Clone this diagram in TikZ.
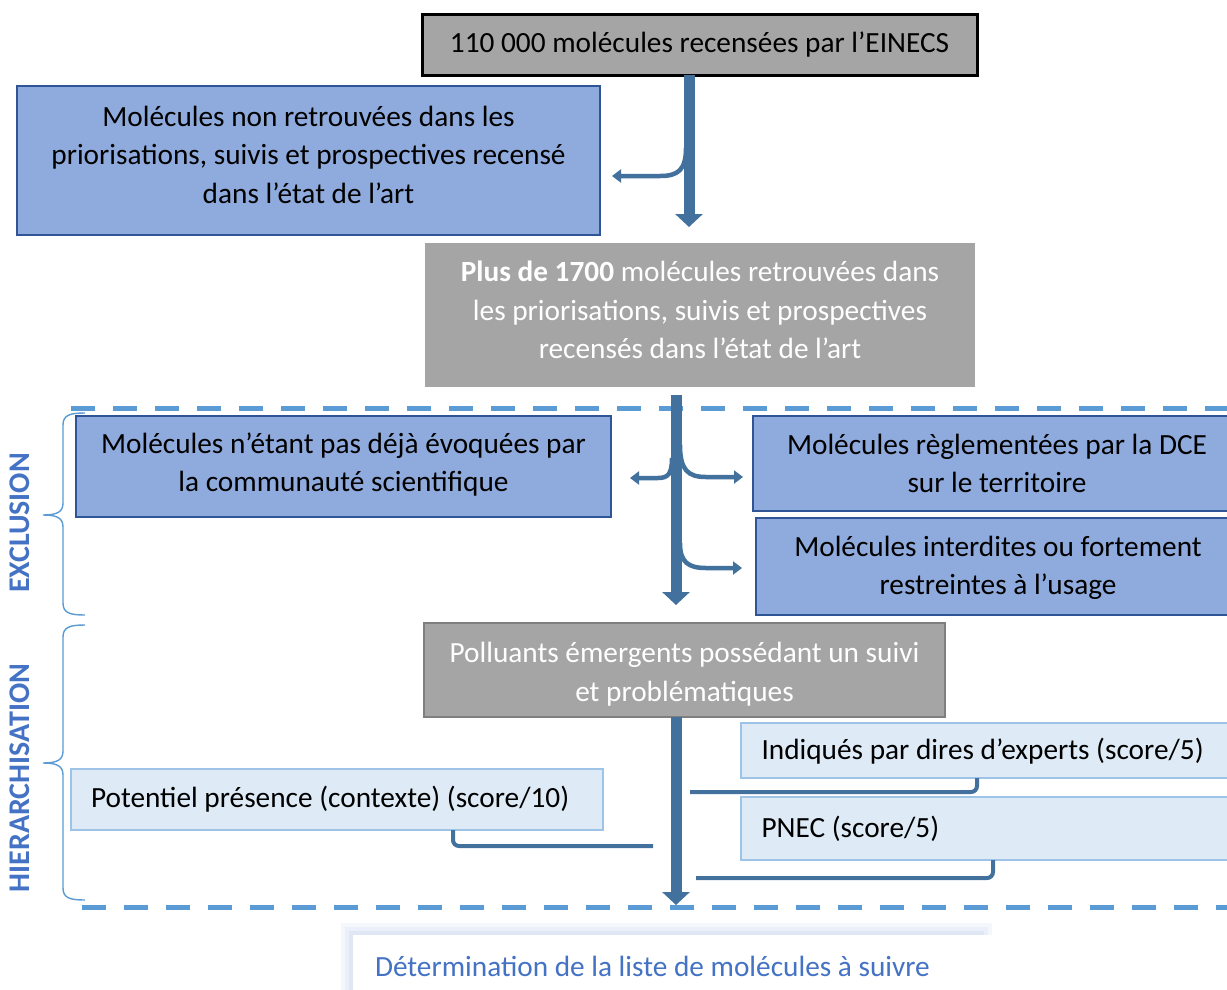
\documentclass[tikz,border=0pt]{standalone}
\usepackage{fontspec}
\setmainfont{Carlito}
\usetikzlibrary{arrows.meta,calc}
\definecolor{arrowblue}{HTML}{41719C}
\definecolor{midfill}{HTML}{8FAADC}
\definecolor{midline}{HTML}{2F5597}
\definecolor{lightfill}{HTML}{DEEBF7}
\definecolor{lightline}{HTML}{9DC3E6}
\definecolor{grayfill}{HTML}{A5A5A5}
\definecolor{grayline}{HTML}{7F7F7F}
\definecolor{dashblue}{HTML}{5B9BD5}
\definecolor{labelblue}{HTML}{4472C4}
\tikzset{
  txt/.style={font=\fontsize{29.3}{38.5}\selectfont, align=center, inner sep=0pt, outer sep=0pt},
  boxbase/.style={inner sep=0pt, outer sep=0pt},
  midbox/.style={boxbase, fill=midfill, draw=midline, line width=1.3pt},
  graybox/.style={boxbase, fill=grayfill},
  lightbox/.style={txt, fill=lightfill, draw=lightline, line width=1.3pt, align=flush left, inner xsep=20pt},
  mainarrow/.style={draw=arrowblue, line width=11pt, -{Triangle[width=27pt,length=13pt]}},
  branch/.style={draw=arrowblue, line width=4.5pt, -{Triangle[width=13pt,length=9pt]}},
  elbow/.style={draw=arrowblue, line width=4pt, rounded corners=6pt},
  sepline/.style={draw=dashblue, line width=5pt, dash pattern=on 24pt off 18pt},
  bracec/.style={draw=dashblue, line width=1.4pt},
  sidelabel/.style={font=\fontsize{30}{34}\selectfont\bfseries, text=labelblue, rotate=90, inner sep=0pt}
}
\begin{document}
\begin{tikzpicture}[x=1pt,y=-1pt]
\useasboundingbox (0,0) rectangle (1227,989);
\fill[white] (0,0) rectangle (1227,989);

% boxes
\node[txt, fill=grayfill, draw=black, line width=3pt, minimum width=555pt, minimum height=61pt] (einecs) at (699.5,44.5) {110 000 molécules recensées par l’EINECS};

\node[midbox, minimum width=583pt, minimum height=149pt] (nonret) at (308.5,160.5) {};
\node[txt] (nonret-t) at ($(nonret.center)+(0,-6)$) {Molécules non retrouvées dans les\\priorisations, suivis et prospectives recensé\\dans l’état de l’art};

\node[graybox, minimum width=550pt, minimum height=144pt] (plus) at (700,315) {};
\node[txt, text=white] (plus-t) at ($(plus.center)+(0,-5)$) {\textbf{Plus de 1700} molécules retrouvées dans\\les priorisations, suivis et prospectives\\recensés dans l’état de l’art};

\node[midbox, minimum width=535pt, minimum height=101pt] (evoq) at (343.5,466.5) {};
\node[txt] (evoq-t) at ($(evoq.center)+(0,-2)$) {Molécules n’étant pas déjà évoquées par\\la communauté scientifique};

\node[midbox, minimum width=488pt, minimum height=95pt] (dce) at (997,463.5) {};
\node[txt] (dce-t) at (dce.center) {Molécules règlementées par la DCE\\sur le territoire};

\node[midbox, minimum width=484pt, minimum height=97pt] (interd) at (998,566.5) {};
\node[txt] (interd-t) at ($(interd.center)+(0,1.5)$) {Molécules interdites ou fortement\\restreintes à l’usage};

\node[graybox, draw=grayline, line width=2pt, minimum width=521pt, minimum height=94pt] (poll) at (684.5,670) {};
\node[txt, text=white] (poll-t) at ($(poll.center)+(0,4)$) {Polluants émergents possédant un suivi\\et problématiques};

\node[lightbox, text width=458pt, minimum width=499pt, minimum height=55pt, text depth=4pt] (experts) at (990.5,750.5) {Indiqués par dires d’experts (score/5)};
\node[lightbox, text width=458pt, minimum width=499pt, minimum height=63pt] (pnec) at (990.5,828.5) {PNEC (score/5)};
\node[lightbox, text width=492pt, minimum width=532pt, minimum height=61pt] (pot) at (337,799.5) {Potentiel présence (contexte) (score/10)};

% final box with glow
\fill[color=labelblue!6] (341,923) rectangle (992,1000);
\fill[color=labelblue!11] (345,927) rectangle (988,1000);
\fill[color=labelblue!17] (349,931) rectangle (984,1000);
\node[txt, fill=white, text=labelblue, align=flush left, anchor=north west, minimum width=627pt, minimum height=62pt, text width=605pt, inner xsep=22pt] (fin) at (353,935) {Détermination de la liste de molécules à suivre};

% separators
\draw[sepline] (71,408) -- (1240,408);
\draw[sepline] (82,907) -- (1240,907);

% braces
\draw[bracec] (85,413) .. controls (70,413) and (63,415) .. (63,425) -- (63,503) .. controls (63,512) and (57,515) .. (43,515) .. controls (57,515) and (63,518) .. (63,527) -- (63,603) .. controls (63,613) and (70,615) .. (85,615);
\draw[bracec] (85,625) .. controls (70,625) and (63,627) .. (63,637) -- (63,751) .. controls (63,760) and (57,763) .. (43,763) .. controls (57,763) and (63,766) .. (63,775) -- (63,888) .. controls (63,898) and (70,900) .. (85,900);
\node[sidelabel] (lexcl) at (20,523) {EXCLUSION};
\node[sidelabel] (lhier) at (20,778) {HIERARCHISATION};

% main arrows
\coordinate (a1e) at (689,227);
\draw[mainarrow] (einecs.south -| a1e) -- (a1e);
\coordinate (a2s) at (676,395);
\coordinate (a2e) at (676,605);
\draw[mainarrow] (a2s) -- (a2e);
\coordinate (a3e) at (676,905);
\draw[mainarrow] (poll.south -| a3e) -- (a3e);

% branch arrows
\coordinate (b1) at (612,176);
\draw[branch] (686,148) .. controls (686,170) and (678,176) .. (660,176) -- (b1);
\coordinate (b2) at (630,478);
\draw[branch] (672,458) .. controls (672,474) and (668,478) .. (658,478) -- (b2);
\coordinate (b3) at (743,477);
\draw[branch] (680,445) .. controls (680,470) and (688,477) .. (706,477) -- (b3);
\coordinate (b4) at (742,568);
\draw[branch] (680,543) .. controls (680,562) and (688,568) .. (706,568) -- (b4);

% elbow connectors
\coordinate (c1) at (653,846);
\draw[elbow] (pot.south -| 453,0) -- (453,846) -- (c1);
\coordinate (c2) at (690,792);
\draw[elbow] (experts.south -| 977,0) -- (977,792) -- (c2);
\coordinate (c3) at (696,878);
\draw[elbow] (pnec.south -| 993,0) -- (993,878) -- (c3);
\end{tikzpicture}
\end{document}
